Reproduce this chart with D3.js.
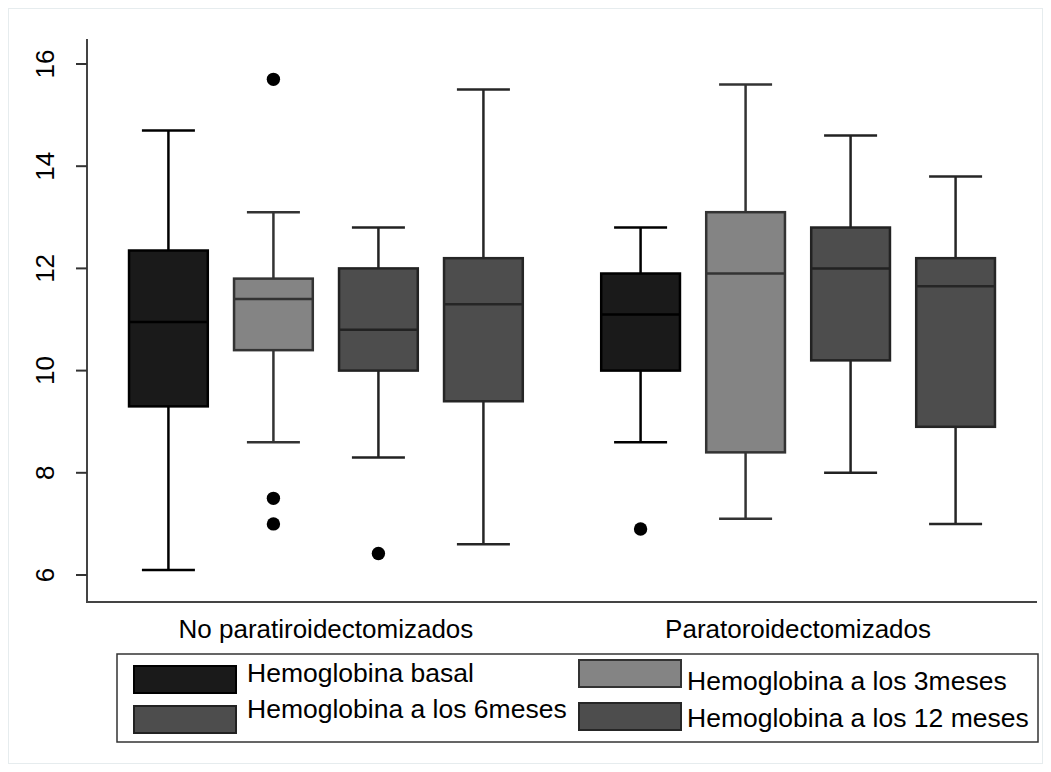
<!DOCTYPE html>
<html>
<head>
<meta charset="utf-8">
<script src="https://cdn.jsdelivr.net/npm/d3@7"></script>
<style>
  body { margin: 0; background: #fff; }
  svg text { font-family: Arial, "Liberation Sans", sans-serif; fill: #000; }
</style>
</head>
<body>
<svg id="chart" width="1051" height="772"></svg>
<script>
// groups on the x axis and the four series
var groups = ["No paratiroidectomizados", "Paratoroidectomizados"];
var series = ["Hemoglobina basal", "Hemoglobina a los 3meses", "Hemoglobina a los 6meses", "Hemoglobina a los 12 meses"];
var fills = ["#1a1a1a", "#848484", "#4d4d4d", "#4d4d4d"];
var strokes = ["#000000", "#333333", "#222222", "#262626"];

// box stats: [low whisker, q1, median, q3, high whisker]
var noParaStats = [
  [6.1, 9.3, 10.95, 12.35, 14.7],
  [8.6, 10.4, 11.4, 11.8, 13.1],
  [8.3, 10.0, 10.8, 12.0, 12.8],
  [6.6, 9.4, 11.3, 12.2, 15.5]
];
var paraStats = [
  [8.6, 10.0, 11.1, 11.9, 12.8],
  [7.1, 8.4, 11.9, 13.1, 15.6],
  [8.0, 10.2, 12.0, 12.8, 14.6],
  [7.0, 8.9, 11.65, 12.2, 13.8]
];
var noParaOutliers = [[], [15.7, 7.5, 7.0], [6.42], []];
var paraOutliers = [[6.9], [], [], []];

var yTicks = [6, 8, 10, 12, 14, 16];

var svg = d3.select("#chart");

// faint outer frame
svg.append("rect")
    .attr("x", 8.5).attr("y", 8.5)
    .attr("width", 1034).attr("height", 755)
    .attr("fill", "none")
    .attr("stroke", "#e6ecee")
    .attr("stroke-width", 1);

var plotLeft = 87, plotRight = 1037, plotTop = 39, plotBottom = 602;

var y = d3.scaleLinear().domain([6, 16]).range([575, 64]);
var x = d3.scalePoint().domain(groups).range([plotLeft, plotRight]).padding(0.506);
var xs = d3.scaleBand().domain(series).range([-210, 210]).paddingInner(0.25).paddingOuter(0.125);

// axes lines
svg.append("line")
    .attr("x1", plotLeft).attr("x2", plotLeft).attr("y1", plotTop).attr("y2", plotBottom + 1)
    .attr("stroke", "#444").attr("stroke-width", 2);
svg.append("line")
    .attr("x1", plotLeft - 1).attr("x2", plotRight).attr("y1", plotBottom).attr("y2", plotBottom)
    .attr("stroke", "#444").attr("stroke-width", 2);

// y ticks
var yt = svg.append("g");
yt.selectAll("line").data(yTicks).enter().append("line")
    .attr("x1", plotLeft - 11).attr("x2", plotLeft)
    .attr("y1", function(d) { return y(d); })
    .attr("y2", function(d) { return y(d); })
    .attr("stroke", "#333").attr("stroke-width", 2);
yt.selectAll("text").data(yTicks).enter().append("text")
    .attr("transform", function(d) { return "translate(54," + y(d) + ") rotate(-90)"; })
    .attr("text-anchor", "middle")
    .style("font-size", "26px")
    .text(function(d) { return d; });

// group labels
svg.selectAll(".glabel").data(groups).enter().append("text")
    .attr("class", "glabel")
    .attr("x", function(d) { return x(d); })
    .attr("y", 638)
    .attr("text-anchor", "middle")
    .style("font-size", "26px")
    .text(function(d) { return d; });

var groupData = [
  { name: groups[0], stats: noParaStats, out: noParaOutliers },
  { name: groups[1], stats: paraStats, out: paraOutliers }
];

var capHalf = 26.5;

groupData.forEach(function(g) {
  var gx = x(g.name);
  series.forEach(function(s, i) {
    var st = g.stats[i];
    var cx = gx + xs(s) + xs.bandwidth() / 2;
    var bx = gx + xs(s);
    var bw = xs.bandwidth();
    var gg = svg.append("g");
    var lc = strokes[i];
    // whiskers
    gg.append("line")
        .attr("x1", cx).attr("x2", cx).attr("y1", y(st[4])).attr("y2", y(st[3]))
        .attr("stroke", lc).attr("stroke-width", 2.5);
    gg.append("line")
        .attr("x1", cx).attr("x2", cx).attr("y1", y(st[1])).attr("y2", y(st[0]))
        .attr("stroke", lc).attr("stroke-width", 2.5);
    gg.append("line")
        .attr("x1", cx - capHalf).attr("x2", cx + capHalf).attr("y1", y(st[4])).attr("y2", y(st[4]))
        .attr("stroke", lc).attr("stroke-width", 2.5);
    gg.append("line")
        .attr("x1", cx - capHalf).attr("x2", cx + capHalf).attr("y1", y(st[0])).attr("y2", y(st[0]))
        .attr("stroke", lc).attr("stroke-width", 2.5);
    // box
    gg.append("rect")
        .attr("x", bx).attr("y", y(st[3]))
        .attr("width", bw).attr("height", y(st[1]) - y(st[3]))
        .attr("fill", fills[i])
        .attr("stroke", lc).attr("stroke-width", 2.5);
    gg.append("line")
        .attr("x1", bx).attr("x2", bx + bw).attr("y1", y(st[2])).attr("y2", y(st[2]))
        .attr("stroke", lc).attr("stroke-width", 2.5);
    // outliers
    gg.selectAll("circle").data(g.out[i]).enter().append("circle")
        .attr("cx", cx).attr("cy", function(d) { return y(d); })
        .attr("r", 6.7).attr("fill", "#000");
  });
});

// legend
var legend = svg.append("g");
legend.append("rect")
    .attr("x", 117).attr("y", 654).attr("width", 921).attr("height", 88)
    .attr("fill", "#fff").attr("stroke", "#333").attr("stroke-width", 1.5);

var legPos = [
  { sx: 134, sy: 666, tx: 247, ty: 682 },
  { sx: 579, sy: 660, tx: 687, ty: 690 },
  { sx: 134, sy: 706, tx: 247, ty: 718 },
  { sx: 579, sy: 703, tx: 687, ty: 727 }
];
series.forEach(function(s, i) {
  var p = legPos[i];
  legend.append("rect")
      .attr("x", p.sx).attr("y", p.sy).attr("width", 102).attr("height", 27)
      .attr("fill", fills[i]).attr("stroke", strokes[i]).attr("stroke-width", 2);
  legend.append("text")
      .attr("x", p.tx).attr("y", p.ty)
      .style("font-size", "26.5px")
      .text(s);
});
</script>
</body>
</html>
